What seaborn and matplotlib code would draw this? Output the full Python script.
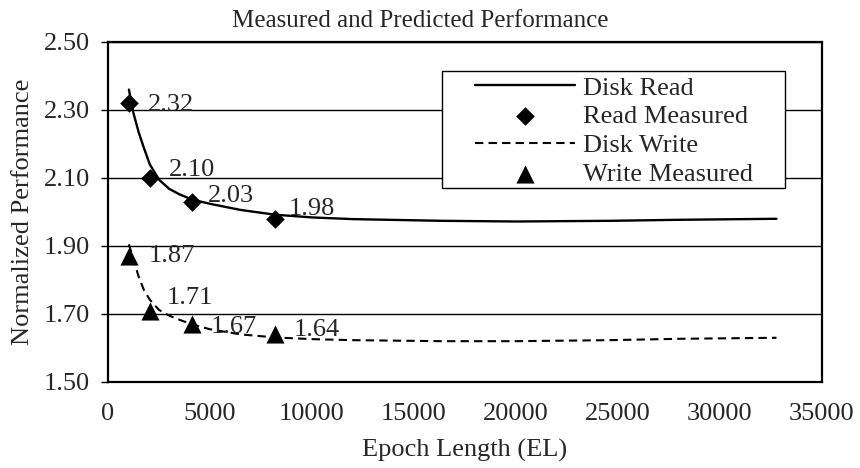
import numpy as np
import pandas as pd
import matplotlib
matplotlib.use('Agg')
import matplotlib.pyplot as plt
from matplotlib.patches import Rectangle
import seaborn as sns

sns.set_style('white')
plt.rcParams['font.family'] = ['Liberation Serif', 'DejaVu Serif']

# predicted curves
el_curve = [1024, 1250, 1500, 1750, 2048, 2500, 3000, 3500, 4096, 5000, 6500,
            8192, 10000, 12000, 16384, 20000, 24576, 28000, 32768]
read_pred = [2.36, 2.29, 2.235, 2.19, 2.14, 2.095, 2.068, 2.052, 2.037, 2.024, 2.006,
             1.992, 1.984, 1.979, 1.974, 1.972, 1.974, 1.977, 1.980]
write_pred = [1.905, 1.86, 1.81, 1.772, 1.742, 1.712, 1.695, 1.683, 1.670, 1.655, 1.640,
              1.631, 1.626, 1.623, 1.620, 1.620, 1.623, 1.627, 1.630]

# measured points
el_meas = [1024, 2048, 4096, 8192]
read_meas = [2.32, 2.10, 2.03, 1.98]
write_meas = [1.87, 1.71, 1.67, 1.64]

yticks = [1.50, 1.70, 1.90, 2.10, 2.30, 2.50]
xticks = [0, 5000, 10000, 15000, 20000, 25000, 30000, 35000]

# label offsets (points) for the value labels
read_off = [(14, -1), (14, 6), (12, 4), (10, 7)]
write_off = [(14, 0), (12, 9), (14, -2), (13, 3)]

fig = plt.figure(figsize=(8.6, 4.68), dpi=100)
ax = fig.add_axes([0.1256, 0.1838, 0.8302, 0.7265])

dash = (0, (4, 2.5))
sns.lineplot(x=el_curve, y=read_pred, color='black', lw=1.7, estimator=None,
             sort=False, label='Disk Read', ax=ax)
sns.scatterplot(x=el_meas, y=read_meas, marker='D', s=90, color='black',
                linewidth=0, label='Read Measured', ax=ax, zorder=3)
sns.lineplot(x=el_curve, y=write_pred, color='black', lw=1.5, linestyle=dash,
             estimator=None, sort=False, label='Disk Write', ax=ax)
sns.scatterplot(x=el_meas, y=write_meas, marker='^', s=170, color='black',
                linewidth=0, label='Write Measured', ax=ax, zorder=3)

for x, y, off in zip(el_meas, read_meas, read_off):
    ax.annotate(f'{y:.2f}', (x, y), xytext=off, textcoords='offset points',
                ha='left', va='center', fontsize=19)
for x, y, off in zip(el_meas, write_meas, write_off):
    ax.annotate(f'{y:.2f}', (x, y), xytext=off, textcoords='offset points',
                ha='left', va='center', fontsize=19)

ax.set_xlim(0, 35000)
ax.set_ylim(1.50, 2.50)
ax.set_xticks(xticks)
ax.set_xticklabels([str(v) for v in xticks])
ax.set_yticks(yticks)
ax.set_yticklabels([f'{v:.2f}' for v in yticks])
ax.tick_params(axis='x', length=0, pad=15, labelsize=19)
ax.tick_params(axis='y', length=5, width=1, color='black', pad=8, labelsize=19,
               left=True)
ax.yaxis.grid(True, color='black', lw=1)
ax.xaxis.grid(False)
for sp in ax.spines.values():
    sp.set_color('black')
    sp.set_linewidth(1.6)

ax.set_xlabel('Epoch Length (EL)', fontsize=19, labelpad=10)
ax.set_ylabel('Normalized Performance', fontsize=19, labelpad=7)
ax.set_title('Measured and Predicted Performance', fontsize=18, pad=11, x=0.438)

# legend box
ax.add_patch(Rectangle((0.468, 0.5706), 0.48, 0.344, transform=ax.transAxes,
                       facecolor='white', edgecolor='black', lw=1.0, zorder=4))
handles, labels = ax.get_legend_handles_labels()
leg = ax.legend(handles, labels, loc='center left', bbox_to_anchor=(0.514, 0.738),
                frameon=False, fontsize=19, handlelength=3.8, handletextpad=0.3,
                labelspacing=0.2, borderpad=0, borderaxespad=0)
leg.set_zorder(5)

fig.savefig('out.png', dpi=100)
